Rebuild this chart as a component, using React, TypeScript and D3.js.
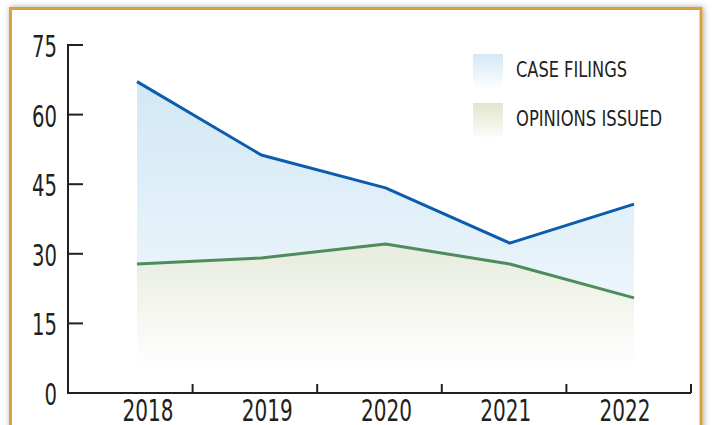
import React from "react";
import * as d3 from "d3";

const years = ["2018", "2019", "2020", "2021", "2022"];
const caseFilings = [67.1, 51.3, 44.2, 32.3, 40.7];
const opinionsIssued = [27.8, 29.1, 32.1, 27.8, 20.5];
const yTicks = [0, 15, 30, 45, 60, 75];
const legendLabels = ["CASE FILINGS", "OPINIONS ISSUED"];

const W = 712;
const H = 425;
const FONT = '"Liberation Sans Narrow", "DejaVu Sans Condensed", "Roboto Condensed", sans-serif';
const INK = "#231f20";

export default function App() {
  const y = d3.scaleLinear().domain([0, 75]).range([393, 45]);
  const xData = d3.scalePoint<string>().domain(years).range([137, 634]);
  const xLabel = d3.scalePoint<string>().domain(years).range([148, 625]);
  const xBand = d3.scaleBand<string>().domain(years).range([68, 691]);

  const blueLine = d3
    .line<number>()
    .x((_, i) => xData(years[i])!)
    .y((d) => y(d));
  const blueArea = d3
    .area<number>()
    .x((_, i) => xData(years[i])!)
    .y0(y(5.5))
    .y1((d) => y(d));

  const lineColorBlue = "#0b5cad";
  const lineColorGreen = "#4e8c5c";

  return (
    <div style={{ position: "absolute", left: 0, top: 0 }}>
      <svg width={W} height={H} style={{ display: "block", background: "#ffffff" }}>
        <defs>
          <linearGradient id="blueGrad" gradientUnits="userSpaceOnUse" x1="0" y1={y(67)} x2="0" y2={y(5.5)}>
            <stop offset="0" stopColor="#d2e8f5" />
            <stop offset="0.7" stopColor="#eaf4fb" />
            <stop offset="1" stopColor="#ffffff" />
          </linearGradient>
          <linearGradient id="greenGrad" gradientUnits="userSpaceOnUse" x1="0" y1={y(32)} x2="0" y2={y(5.5)}>
            <stop offset="0" stopColor="#e7ecdd" />
            <stop offset="1" stopColor="#ffffff" />
          </linearGradient>
          <linearGradient id="blueSw" x1="0" y1="0" x2="0" y2="1">
            <stop offset="0" stopColor="#d3e9f6" />
            <stop offset="1" stopColor="#fbfdff" />
          </linearGradient>
          <linearGradient id="greenSw" x1="0" y1="0" x2="0" y2="1">
            <stop offset="0" stopColor="#dfe6cc" />
            <stop offset="1" stopColor="#fdfdfa" />
          </linearGradient>
          <filter id="shadow" x="-5%" y="-5%" width="110%" height="110%">
            <feGaussianBlur in="SourceAlpha" stdDeviation="3" />
            <feOffset dx="1" dy="0" result="b" />
            <feComponentTransfer>
              <feFuncA type="linear" slope="0.35" />
            </feComponentTransfer>
            <feMerge>
              <feMergeNode />
              <feMergeNode in="SourceGraphic" />
            </feMerge>
          </filter>
        </defs>

        {/* frame */}
        <rect x={10.5} y={8.5} width={690.5} height={440} fill="#ffffff" stroke="#d9a23c" strokeWidth={3} filter="url(#shadow)" />

        {/* areas */}
        <path d={blueArea(caseFilings) || ""} fill="url(#blueGrad)" />
        <path d={blueArea(opinionsIssued) || ""} fill="url(#greenGrad)" />

        {/* lines */}
        <path d={blueLine(caseFilings) || ""} fill="none" stroke={lineColorBlue} strokeWidth={3} strokeLinejoin="round" />
        <path d={blueLine(opinionsIssued) || ""} fill="none" stroke={lineColorGreen} strokeWidth={3} strokeLinejoin="round" />

        {/* y axis */}
        <line x1={68} x2={68} y1={y(75) - 1} y2={y(0) + 1} stroke={INK} strokeWidth={2} />
        {yTicks.map((t) => (
          <g key={t}>
            <line x1={67} x2={83} y1={y(t)} y2={y(t)} stroke={INK} strokeWidth={2} />
            <text
              x={57}
              y={y(t) + 12}
              textAnchor="end"
              fontFamily={FONT}
              fontSize={30}
              fill={INK}
              textLength={String(t).length * 12.5}
              lengthAdjust="spacingAndGlyphs"
            >
              {t}
            </text>
          </g>
        ))}

        {/* x axis */}
        <line x1={67} x2={691} y1={y(0)} y2={y(0)} stroke={INK} strokeWidth={2} />
        {years.map((yr) => {
          const bx = xBand(yr)! + xBand.bandwidth();
          return <line key={"t" + yr} x1={bx} x2={bx} y1={y(0)} y2={y(0) - 9} stroke={INK} strokeWidth={2} />;
        })}
        {years.map((yr) => (
          <text
            key={yr}
            x={xLabel(yr)!}
            y={421}
            textAnchor="middle"
            fontFamily={FONT}
            fontSize={30}
            fill={INK}
            textLength={51}
            lengthAdjust="spacingAndGlyphs"
          >
            {yr}
          </text>
        ))}

        {/* legend */}
        <rect x={473} y={54} width={30} height={33} fill="url(#blueSw)" />
        <text x={516} y={77} fontFamily={FONT} fontSize={21} fill={INK} textLength={111} lengthAdjust="spacingAndGlyphs">
          {legendLabels[0]}
        </text>
        <rect x={473} y={103} width={30} height={34} fill="url(#greenSw)" />
        <text x={516} y={126} fontFamily={FONT} fontSize={21} fill={INK} textLength={146} lengthAdjust="spacingAndGlyphs">
          {legendLabels[1]}
        </text>
      </svg>
    </div>
  );
}
